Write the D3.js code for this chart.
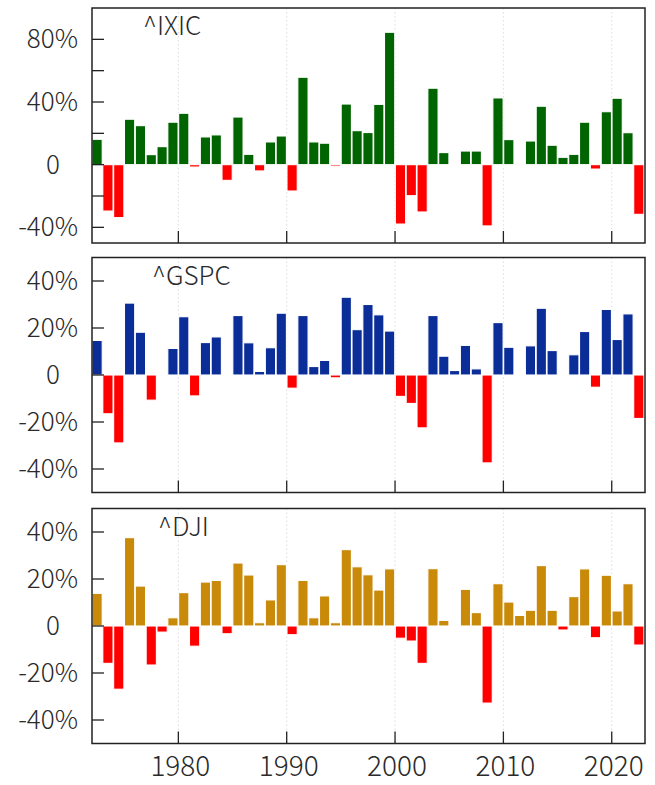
<!DOCTYPE html>
<html>
<head>
<meta charset="utf-8">
<script src="https://cdn.jsdelivr.net/npm/d3@7"></script>
<style>
  html, body { margin: 0; padding: 0; background: #fff; }
  svg { display: block; }
  text { font-family: "Noto Sans CJK SC", "Noto Sans", sans-serif; font-weight: 300; fill: #2a2a2a; }
</style>
</head>
<body>
<svg id="chart" width="655" height="785"></svg>
<script>
// ---- data (annual returns, %) ----
const years = d3.range(1972, 2023);
const ixic = [16.2,-29.6,-33.8,29.0,24.9,6.4,11.5,27.1,32.8,-1.5,
  17.7,19.0,-10.0,30.4,6.6,-4.0,14.5,18.3,-16.8,55.8,
  14.5,13.7,-1.0,38.7,21.7,20.5,38.5,84.5,-37.9,-19.8,
  -30.2,48.8,7.7,0.4,8.7,8.7,-39.1,42.6,16.0,-0.5,
  15.1,37.3,12.4,4.7,6.6,27.1,-2.8,33.8,42.4,20.4,-31.7];
const gspc = [14.7,-16.5,-28.9,30.6,18.2,-10.7,0.3,11.3,24.8,-8.9,
  13.8,16.2,0.3,25.3,13.7,1.5,11.6,26.3,-5.6,25.3,
  3.6,6.2,-1.2,33.1,19.3,30.0,25.6,18.7,-9.1,-12.1,
  -22.5,25.3,8.0,1.9,12.6,2.6,-37.4,22.3,11.8,0.0,
  12.4,28.4,10.4,-0.4,8.6,18.5,-5.2,27.9,15.1,26.0,-18.5];
const dji = [13.9,-15.9,-26.9,37.6,17.0,-16.6,-2.6,3.5,14.2,-8.6,
  18.7,19.4,-3.3,26.8,21.7,1.4,11.1,26.1,-3.7,19.4,
  3.5,12.8,1.4,32.5,25.2,21.8,15.3,24.3,-5.2,-6.4,
  -15.9,24.4,2.4,-0.3,15.6,5.7,-32.8,18.0,10.2,4.5,
  6.7,25.7,6.7,-1.7,12.5,24.3,-5.0,21.6,6.4,18.0,-8.1];
const panelNames = ["^IXIC", "^GSPC", "^DJI"];
const posColors = ["#006400", "#0b2d98", "#c98a0a"];
const negColor = "#ff0000";
const xTickYears = [1980, 1990, 2000, 2010, 2020];
const yTicksIxic = [-40, -20, 0, 20, 40, 60, 80];
const yLabelsIxic = [-40, 0, 40, 80];
const yTicksOther = [-40, -20, 0, 20, 40];

// ---- layout ----
const svg = d3.select("#chart");
const left = 92, right = 645, panelH = 235;
const tops = [8, 257.5, 508.5];
const x = d3.scaleLinear().domain([1972.03, 2023.07]).range([left, right]);
const series = [ixic, gspc, dji];
const domains = [[-50, 100], [-50, 50], [-50, 50]];
const titleX = [143, 152, 158];
const fmt = v => v === 0 ? "0" : v + "%";

series.forEach((vals, p) => {
  const top = tops[p], bottom = top + panelH;
  const y = d3.scaleLinear().domain(domains[p]).range([bottom, top]);
  const g = svg.append("g");

  const clipId = "clip" + p;
  g.append("clipPath").attr("id", clipId).append("rect")
    .attr("x", left).attr("y", top).attr("width", right - left).attr("height", panelH);

  // dotted vertical grid
  g.selectAll("line.grid").data(xTickYears).join("line")
    .attr("x1", d => x(d)).attr("x2", d => x(d))
    .attr("y1", top).attr("y2", bottom)
    .attr("stroke", "#d4d4d4").attr("stroke-width", 0.8)
    .attr("stroke-dasharray", "1.5,2.5");

  // bars
  const data = years.map((yr, i) => ({ yr, v: vals[i] }));
  g.append("g").attr("clip-path", `url(#${clipId})`)
    .selectAll("rect").data(data).join("rect")
    .attr("x", d => x(d.yr) + 0.3)
    .attr("width", d => x(d.yr + 1) - x(d.yr) - 0.6)
    .attr("y", d => Math.min(y(d.v), y(0)))
    .attr("height", d => Math.abs(y(d.v) - y(0)))
    .attr("fill", d => d.v >= 0 ? posColors[p] : negColor)
    .attr("stroke", "#fff").attr("stroke-width", 1.1);

  // y ticks (inward)
  const yt = p === 0 ? yTicksIxic : yTicksOther;
  g.selectAll("line.yt").data(yt).join("line")
    .attr("x1", left).attr("x2", left + 12)
    .attr("y1", d => y(d)).attr("y2", d => y(d))
    .attr("stroke", "#222").attr("stroke-width", 1.3);
  const yl = p === 0 ? yLabelsIxic : yTicksOther;
  g.selectAll("text.yl").data(yl).join("text")
    .attr("x", d => d === 0 ? 60 : 78)
    .attr("y", d => y(d))
    .attr("dy", "0.35em")
    .attr("text-anchor", "end")
    .attr("font-size", 26)
    .text(fmt);

  // x ticks (inward, bottom)
  g.selectAll("line.xt").data(xTickYears).join("line")
    .attr("x1", d => x(d)).attr("x2", d => x(d))
    .attr("y1", bottom).attr("y2", bottom - 12)
    .attr("stroke", "#222").attr("stroke-width", 1.3);

  // frame
  g.append("rect")
    .attr("x", left).attr("y", top).attr("width", right - left).attr("height", panelH)
    .attr("fill", "none").attr("stroke", "#222").attr("stroke-width", 1.5);

  // title
  g.append("text")
    .attr("x", titleX[p]).attr("y", top + 27)
    .attr("font-size", 26)
    .text(panelNames[p]);

  // x labels on bottom panel
  if (p === 2) {
    g.selectAll("text.xl").data(xTickYears).join("text")
      .attr("x", d => x(d) + 2)
      .attr("y", 776)
      .attr("text-anchor", "middle")
      .attr("font-size", 28)
      .text(d => d);
  }
});
</script>
</body>
</html>
